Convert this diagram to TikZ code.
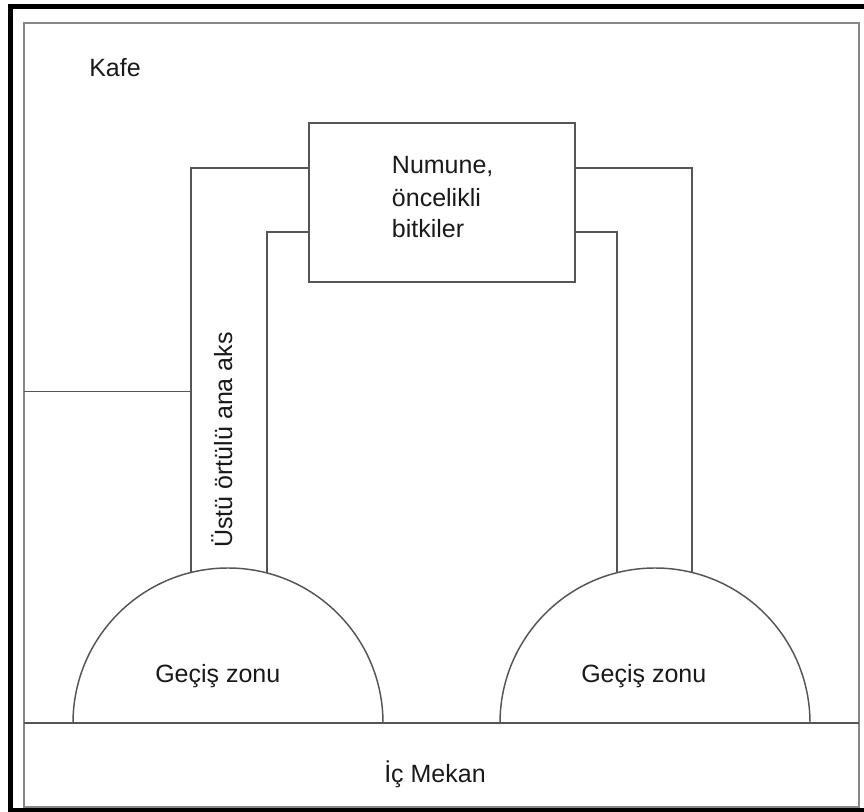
\documentclass[tikz,border=0pt]{standalone}
\usepackage{fontspec}
\setmainfont{Liberation Sans}
\definecolor{linegray}{RGB}{85,85,85}
\definecolor{framegray}{RGB}{135,135,135}
\definecolor{txt}{RGB}{25,25,25}
\begin{document}
\begin{tikzpicture}[x=0.75pt,y=-0.75pt,
  ln/.style={draw=linegray,line width=1.1pt},
  fr/.style={draw=framegray,line width=1.5pt},
  lbl/.style={inner sep=0,font=\fontsize{18.75}{24}\selectfont,text=txt}]
\useasboundingbox (0,0) rectangle (864,812);
\begin{scope}
  \clip (0,0) rectangle (864,812);
  \draw[line width=4.2pt] (10.5,6.5) rectangle (880,811);
\end{scope}
% inner frame
\draw[fr] (24,23) rectangle (859,807);
% named coordinates
\coordinate (boxNW) at (309,123);
\coordinate (boxSE) at (575,282);
\coordinate (lo) at (191,168);
\coordinate (li) at (267,232);
\coordinate (ri) at (617,232);
\coordinate (ro) at (692,168);
% corridors
\draw[ln] (309,168) -- (lo) -- (191,700);
\draw[ln] (309,232) -- (li) -- (267,700);
\draw[ln] (575,232) -- (ri) -- (617,700);
\draw[ln] (575,168) -- (ro) -- (692,700);
% box
\draw[ln] (boxNW) rectangle (boxSE);
% semicircles
\path[ln,fill=white] (73,723) arc[start angle=180,end angle=360,radius=155];
\path[ln,fill=white] (500,723) arc[start angle=180,end angle=360,radius=155];
% lines
\draw[ln] (24,723) -- (859,723);
\draw[ln] (24,391.7) -- (lo |- 0,391.7);
% labels
\node[lbl,anchor=base west] (kafe) at (89,76.7) {Kafe};
\node[lbl,anchor=base west] (n1) at (391.7,174) {Numune,};
\node[lbl,anchor=base west] (n2) at (391.7,206.5) {öncelikli};
\node[lbl,anchor=base west] (n3) at (391.7,237.7) {bitkiler};
\node[lbl,anchor=base west] (g1) at (155,682.7) {Geçiş zonu};
\node[lbl,anchor=base west] (g2) at (581,682.7) {Geçiş zonu};
\node[lbl,anchor=base west] (ic) at (384,782.7) {İç Mekan};
\node[lbl,anchor=base,rotate=90] (aks) at (232,440) {Üstü örtülü ana aks};
\end{tikzpicture}
\end{document}
